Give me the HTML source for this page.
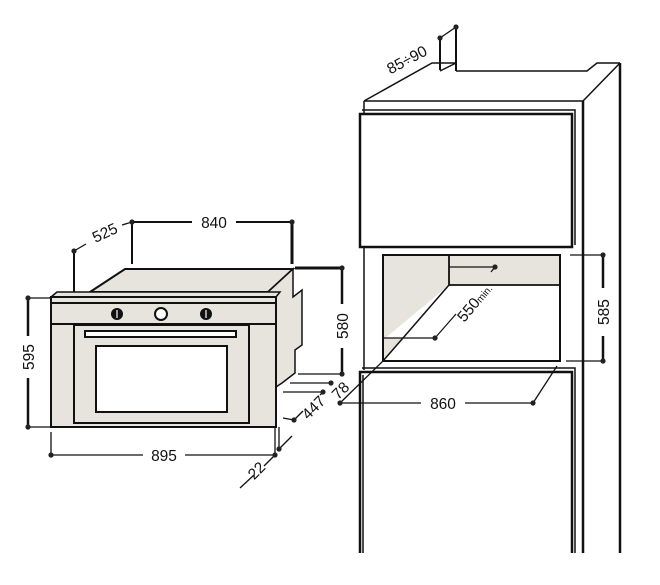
<!DOCTYPE html>
<html><head><style>
html,body{margin:0;padding:0;background:#fff;width:660px;height:585px;overflow:hidden}
svg text{font-family:"Liberation Sans",Arial,sans-serif;font-size:15.5px;fill:#111}
</style></head><body>
<svg width="660" height="585" viewBox="0 0 660 585" xmlns="http://www.w3.org/2000/svg">
<g stroke="#111" fill="none" stroke-width="2">
<polygon points="90,292 125,269 293,269 268,292" fill="#e6e4dc" stroke-width="2"/>
<polygon points="268,292 293,269 293,297 302,290 302,345 295,350 295,373 282,383 276,387 276,297" fill="#e6e4dc" stroke-width="1.5"/>
<polygon points="51,297 57,292 280,292 276,297" fill="#e6e4dc" stroke-width="1.5"/>
<rect x="51" y="297" width="225" height="130" fill="#e6e4dc"/>
<line x1="51" y1="303" x2="276" y2="303"/>
<line x1="51" y1="324" x2="276" y2="324"/>
<rect x="74" y="325" width="175" height="98" fill="#e6e4dc"/>
<rect x="85" y="331" width="151" height="6" fill="#fff"/>
<rect x="96" y="346" width="131" height="66" fill="#fff"/>
<circle cx="117" cy="314" r="5" fill="#111"/>
<circle cx="161" cy="314" r="6" fill="#fff"/>
<circle cx="206" cy="314" r="5" fill="#111"/>
<line x1="117" y1="310" x2="117" y2="318" stroke="#fff" stroke-width="1.2"/>
<line x1="206" y1="310" x2="206" y2="318" stroke="#fff" stroke-width="1.2"/>
</g>
<g stroke="#111" stroke-width="1.3" fill="none">
<line x1="74" y1="251" x2="74" y2="292" stroke-width="2"/>
<line x1="74" y1="251" x2="86" y2="244"/>
<line x1="122" y1="225" x2="132" y2="222"/>
<line x1="132" y1="222" x2="192" y2="222" stroke-width="2"/>
<line x1="236" y1="222" x2="292" y2="222" stroke-width="2"/>
<line x1="132" y1="222" x2="132" y2="264" stroke-width="2"/>
<line x1="292" y1="222" x2="292" y2="264" stroke-width="3"/>
<line x1="295" y1="268" x2="342" y2="268" stroke-width="3"/>
<line x1="342" y1="268" x2="342" y2="304" stroke-width="2.5"/>
<line x1="342" y1="348" x2="342" y2="374" stroke-width="2.5"/>
<line x1="298" y1="374" x2="342" y2="374"/>
<line x1="290" y1="383" x2="331" y2="383"/>
<line x1="283" y1="392" x2="323" y2="392"/>
<line x1="283" y1="418" x2="294" y2="420"/>
<line x1="294" y1="420" x2="303" y2="411"/>
<line x1="320" y1="395" x2="323" y2="392"/>
<line x1="340" y1="403" x2="383" y2="361"/>
<line x1="28" y1="298" x2="51" y2="298"/>
<line x1="28" y1="427" x2="51" y2="427"/>
<line x1="28" y1="298" x2="28" y2="336" stroke-width="2.5"/>
<line x1="28" y1="378" x2="28" y2="427" stroke-width="2.5"/>
<line x1="51" y1="432" x2="51" y2="455"/>
<line x1="275" y1="427" x2="275" y2="455"/>
<line x1="279" y1="427" x2="279" y2="449"/>
<line x1="51" y1="455" x2="143" y2="455"/>
<line x1="185" y1="455" x2="275" y2="455"/>
<line x1="240" y1="488" x2="254" y2="475"/>
<line x1="264" y1="466" x2="275" y2="455"/>
<line x1="279" y1="449" x2="292" y2="436"/>
<line x1="340" y1="403" x2="421" y2="403"/>
<line x1="465" y1="403" x2="533" y2="403"/>
<line x1="533" y1="403" x2="557" y2="366"/>
<line x1="570" y1="255" x2="603" y2="255"/>
<line x1="566" y1="361" x2="603" y2="361"/>
<line x1="603" y1="255" x2="603" y2="288" stroke-width="2.5"/>
<line x1="603" y1="336" x2="603" y2="361" stroke-width="2.5"/>
<line x1="440" y1="38" x2="440" y2="70" stroke-width="2"/>
<line x1="456" y1="27" x2="456" y2="71" stroke-width="2"/>
<line x1="440" y1="38" x2="456" y2="27"/>
</g>
<g stroke="#111" fill="none" stroke-width="1.5">
<polyline points="364,101 432,63 456,63"/>
<line x1="440" y1="71" x2="456" y2="63"/>
<polyline points="456,71 587,71 597,63 620,63"/>
<line x1="364" y1="101" x2="583" y2="101"/>
<line x1="583" y1="101" x2="620" y2="63"/>
<line x1="620" y1="63" x2="620" y2="553" stroke-width="2.5"/>
<line x1="583" y1="101" x2="583" y2="553" stroke-width="2.5"/>
<line x1="364" y1="101" x2="364" y2="113"/>
<line x1="364" y1="247" x2="364" y2="370"/>
<rect x="360" y="114" width="212" height="133" stroke-width="2.5"/>
<polyline points="362,110 575,110 575,245" stroke-width="1.5"/>
<polyline points="360,553 360,372 572,372 572,553" stroke-width="2.5"/>
<line x1="363" y1="375" x2="363" y2="553" stroke-width="1.5"/>
<polyline points="362,368 575,368 575,553" stroke-width="1.5"/>
<polygon points="383,256 449,256 449,285 383,340" fill="#e6e4dc" stroke="none"/>
<polygon points="449,256 560,256 560,285 449,285" fill="#e6e4dc" stroke="none"/>
<polygon points="383,338 404,338 383,361" fill="#e6e4dc" stroke="none"/>
<rect x="383" y="255" width="177" height="106" stroke-width="2"/>
<polyline points="449,256 449,285 560,285" stroke-width="1.8"/>
<line x1="449" y1="285" x2="383" y2="361" stroke-width="1.5"/>
<line x1="449" y1="267" x2="495" y2="267" stroke-width="1.2"/>
<line x1="383" y1="338" x2="435" y2="338" stroke-width="1.2"/>
<line x1="435" y1="338" x2="456" y2="314" stroke-width="1.2"/>
<line x1="491" y1="272" x2="495" y2="267" stroke-width="1.2"/>
</g>
<g fill="#222">
<circle cx="74" cy="251" r="2.6"/><circle cx="132" cy="222" r="2.6"/><circle cx="292" cy="222" r="2.6"/>
<circle cx="342" cy="268" r="2.6"/><circle cx="342" cy="374" r="2.6"/><circle cx="331" cy="383" r="2.6"/>
<circle cx="323" cy="392" r="2.6"/><circle cx="294" cy="420" r="2.6"/><circle cx="340" cy="403" r="2.6"/>
<circle cx="28" cy="298" r="2.6"/><circle cx="28" cy="427" r="2.6"/><circle cx="51" cy="455" r="2.6"/>
<circle cx="275" cy="455" r="2.6"/><circle cx="279" cy="449" r="2.6"/><circle cx="533" cy="403" r="2.6"/>
<circle cx="603" cy="255" r="2.6"/><circle cx="603" cy="361" r="2.6"/><circle cx="495" cy="267" r="2.6"/>
<circle cx="435" cy="338" r="2.6"/><circle cx="440" cy="38" r="2.6"/><circle cx="456" cy="27" r="2.6"/>
</g>
<text x="105" y="238" text-anchor="middle" transform="rotate(-25 105 233)">525</text>
<text x="214" y="228" text-anchor="middle">840</text>
<text x="342" y="332" text-anchor="middle" transform="rotate(-90 342 326)">580</text>
<text x="28" y="363" text-anchor="middle" transform="rotate(-90 28 357)">595</text>
<text x="164" y="461" text-anchor="middle">895</text>
<text x="256" y="476" text-anchor="middle" transform="rotate(-45 256 470)">22</text>
<text x="313" y="413" text-anchor="middle" transform="rotate(-45 313 407)">447</text>
<text x="340" y="396" text-anchor="middle" transform="rotate(-45 340 390)">78</text>
<text x="443" y="409" text-anchor="middle">860</text>
<text x="603" y="318" text-anchor="middle" transform="rotate(-90 603 312)">585</text>
<text x="407" y="65" text-anchor="middle" transform="rotate(-28 407 60)">85÷90</text>
<text x="474" y="308" text-anchor="middle" transform="rotate(-50 474 302)">550<tspan font-size="10">min.</tspan></text>
</svg>
</body></html>
